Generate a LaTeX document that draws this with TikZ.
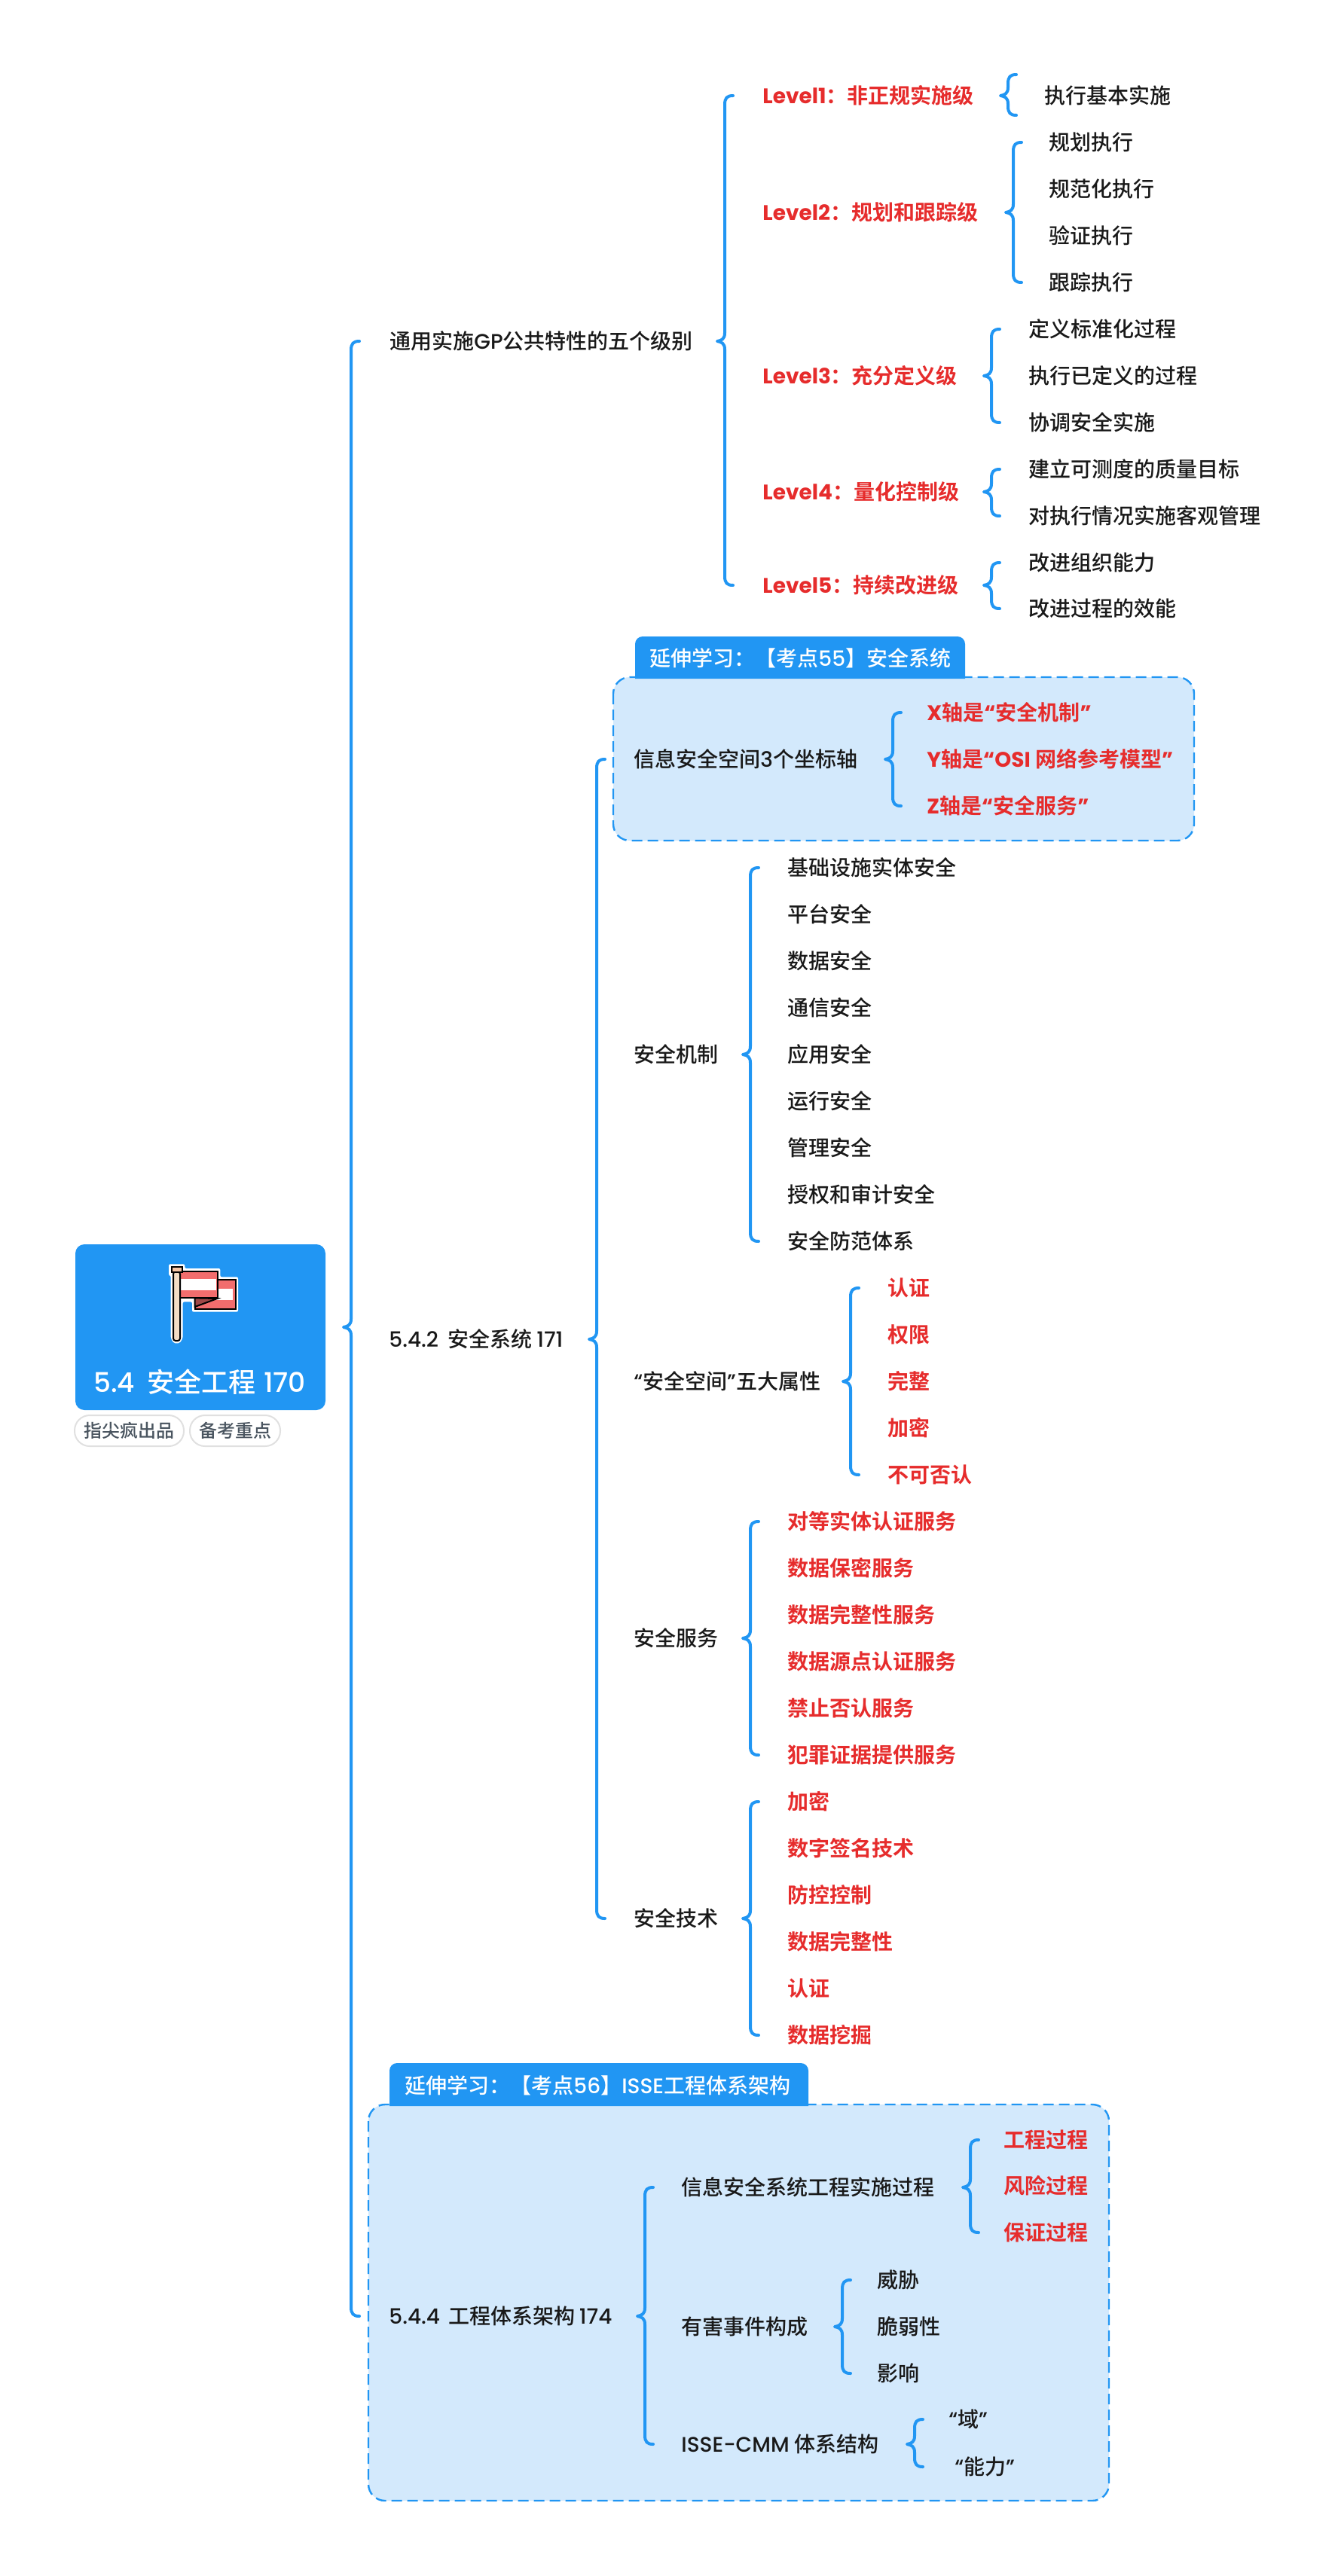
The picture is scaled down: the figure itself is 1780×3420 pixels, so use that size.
\documentclass[tikz,border=0pt]{standalone}
\usepackage{fontspec}
\setmainfont{Noto Sans CJK SC}[UprightFont=* Medium,BoldFont=* Bold]
\newfontfamily\la{Poppins}[UprightFont=* Medium,BoldFont=* Bold]
\usetikzlibrary{calc}

\definecolor{mapblue}{HTML}{2196F3}
\definecolor{mapred}{HTML}{E62C2C}
\definecolor{boxblue}{HTML}{D3E9FC}
\definecolor{mapgray}{HTML}{4A5560}
\definecolor{flagred}{HTML}{F26D6D}
\definecolor{flagdark}{HTML}{A04848}
\definecolor{poletan}{HTML}{F3DCC4}
\definecolor{captan}{HTML}{F6C5A5}

\tikzset{
  txt/.style={anchor=west,inner sep=0pt,yshift=-0.5pt,text=black!90,font=\fontsize{14}{16}\selectfont},
  redtxt/.style={txt,text=mapred,font=\fontsize{14}{16}\selectfont\bfseries},
  tabtxt/.style={txt,text=white},
  tagbox/.style={draw=black!12,line width=1pt,fill=white,rounded corners=10pt,inner sep=0pt,minimum height=20.5pt,text=mapgray,font=\fontsize{12}{14}\selectfont},
  linkline/.style={draw=mapblue,line width=2pt,line cap=round,line join=round},
  zonebox/.style={draw=mapblue,fill=boxblue,line width=1.2pt,dash pattern=on 7pt off 3.5pt,rounded corners=11pt},
}

% parent, first child, last child, x of the tip
\newcommand{\bracelink}[4]{
  \pgfmathsetmacro{\vx}{#4+10}
  \coordinate (tt) at (\vx,0 |- #2);
  \coordinate (mm) at (\vx,0 |- #1);
  \coordinate (bb) at (\vx,0 |- #3);
  \draw[linkline] ($(tt)+(11,0)$) .. controls ($(tt)+(3,0)$) and ($(tt)+(0,3)$) .. ($(tt)+(0,12)$)
    -- ($(mm)+(0,-11)$) .. controls ($(mm)+(0,-3)$) and ($(mm)+(-4,-1)$) .. ($(mm)+(-10,0)$)
    .. controls ($(mm)+(-4,1)$) and ($(mm)+(0,3)$) .. ($(mm)+(0,11)$)
    -- ($(bb)+(0,-12)$) .. controls ($(bb)+(0,-3)$) and ($(bb)+(3,0)$) .. ($(bb)+(11,0)$);
}

\begin{document}
\begin{tikzpicture}[x=0.5pt,y=-0.5pt]
  \useasboundingbox (0,0) rectangle (1780,3420);

  % shaded zones and their tabs
  \path[zonebox] (814,899) rectangle (1585,1116);
  \path[zonebox] (489,2794) rectangle (1472,3320);
  \fill[mapblue] (843,901) [rounded corners=5pt] -- (843,845) -- (1281,845) [sharp corners] -- (1281,901) -- cycle;
  \fill[mapblue] (517,2796) [rounded corners=5pt] -- (517,2739) -- (1073,2739) [sharp corners] -- (1073,2796) -- cycle;
  \node[tabtxt] (tabA) at (862,873) {延伸学习：【考点{\la 55}】安全系统};
  \node[tabtxt] (tabB) at (537,2768) {延伸学习：【考点{\la 56}】{\la ISSE}工程体系架构};

  % root
  \node[fill=mapblue,rounded corners=6pt,minimum width=166pt,minimum height=110pt,inner sep=0pt] (root) at (266,1762) {};
  \node[text=white,inner sep=0pt,font=\fontsize{18}{20}\selectfont] (rootTitle) at (265,1835) {{\la 5.4}\hspace{0.45em}安全工程\hspace{0.3em}{\la 170}};
  \node[tagbox,minimum width=72.5pt] (tagA) at (171.5,1899.5) {指尖疯出品};
  \node[tagbox,minimum width=60pt] (tagB) at (312,1899.5) {备考重点};

  % flag
  \begin{scope}[shift={(60,1620)},x=0.16667pt,y=-0.16667pt]
    \fill[white,rounded corners=1pt] (492,175) -- (556,175) -- (556,192) -- (697,192) -- (697,226) -- (768,226) -- (768,365) -- (585,365) -- (585,325) -- (548,325) -- (548,470) -- (535,490) -- (512,490) -- (500,470) -- (500,220) -- (492,220) -- cycle;
    \filldraw[flagred,draw=black,line width=1pt] (596,236) rectangle (759,355);
    \fill[white] (680,274) rectangle (746,319);
    \filldraw[flagdark,draw=black,line width=1pt] (596,345) -- (596,310) -- (685,312) -- cycle;
    \filldraw[flagred,draw=black,line width=1pt] (530,204) rectangle (687,310);
    \fill[white] (537,234) rectangle (680,280);
    \filldraw[poletan,draw=black,line width=1pt,rounded corners=1.5pt] (510,205) -- (510,480) -- (537,480) -- (537,205) -- cycle;
    \filldraw[captan,draw=black,line width=1pt] (503,187) rectangle (545,207);
  \end{scope}

  % first level
  \node[txt] (gpLevels) at (517,452) {通用实施{\la GP}公共特性的五个级别};
  \node[txt] (sys) at (516,1777) {{\la 5.4.2}\hspace{0.45em}安全系统\hspace{0.2em}{\la 171}};
  \node[txt] (arch) at (516,3074) {{\la 5.4.4}\hspace{0.4em}工程体系架构\hspace{0.2em}{\la 174}};
  \bracelink{root}{gpLevels}{arch}{456}

  % the five levels
  \node[redtxt] (lvA) at (1012,126) {{\la Level1}：非正规实施级};
  \node[redtxt] (lvB) at (1012,281) {{\la Level2}：规划和跟踪级};
  \node[redtxt] (lvC) at (1012,498) {{\la Level3}：充分定义级};
  \node[redtxt] (lvD) at (1012,652) {{\la Level4}：量化控制级};
  \node[redtxt] (lvE) at (1012,776) {{\la Level5}：持续改进级};
  \bracelink{gpLevels}{lvA}{lvE}{952}

  \node[txt] (lvAa) at (1386,126) {执行基本实施};
  \coordinate (lvAtop) at (1350,99);
  \coordinate (lvAbot) at (1350,153);
  \bracelink{lvA}{lvAtop}{lvAbot}{1328}

  \node[txt] (lvBa) at (1392,188) {规划执行};
  \node[txt] (lvBb) at (1392,250) {规范化执行};
  \node[txt] (lvBc) at (1392,312) {验证执行};
  \node[txt] (lvBd) at (1392,374) {跟踪执行};
  \bracelink{lvB}{lvBa}{lvBd}{1335}

  \node[txt] (lvCa) at (1365,436) {定义标准化过程};
  \node[txt] (lvCb) at (1365,498) {执行已定义的过程};
  \node[txt] (lvCc) at (1365,560) {协调安全实施};
  \bracelink{lvC}{lvCa}{lvCc}{1306}

  \node[txt] (lvDa) at (1365,622) {建立可测度的质量目标};
  \node[txt] (lvDb) at (1365,684) {对执行情况实施客观管理};
  \bracelink{lvD}{lvDa}{lvDb}{1306}

  \node[txt] (lvEa) at (1365,746) {改进组织能力};
  \node[txt] (lvEb) at (1365,807) {改进过程的效能};
  \bracelink{lvE}{lvEa}{lvEb}{1306}

  % security system
  \node[txt] (axes) at (841,1007) {信息安全空间{\la 3}个坐标轴};
  \node[txt] (mech) at (841,1399) {安全机制};
  \node[txt] (attr) at (841,1833) {{\la “}安全空间{\la ”}五大属性};
  \node[txt] (serv) at (841,2174) {安全服务};
  \node[txt] (tech) at (841,2546) {安全技术};
  \bracelink{sys}{axes}{tech}{782}

  \node[redtxt] (axesX) at (1230,945) {{\la X}轴是{\la “}安全机制{\la ”}};
  \node[redtxt] (axesY) at (1230,1007) {{\la Y}轴是{\la “OSI} 网络参考模型{\la ”}};
  \node[redtxt] (axesZ) at (1230,1069) {{\la Z}轴是{\la “}安全服务{\la ”}};
  \bracelink{axes}{axesX}{axesZ}{1175}

  \node[txt] (mechA) at (1045,1151) {基础设施实体安全};
  \node[txt] (mechB) at (1045,1213) {平台安全};
  \node[txt] (mechC) at (1045,1275) {数据安全};
  \node[txt] (mechD) at (1045,1337) {通信安全};
  \node[txt] (mechE) at (1045,1399) {应用安全};
  \node[txt] (mechF) at (1045,1461) {运行安全};
  \node[txt] (mechG) at (1045,1523) {管理安全};
  \node[txt] (mechH) at (1045,1585) {授权和审计安全};
  \node[txt] (mechI) at (1045,1647) {安全防范体系};
  \bracelink{mech}{mechA}{mechI}{986}

  \node[redtxt] (attrA) at (1178,1709) {认证};
  \node[redtxt] (attrB) at (1178,1771) {权限};
  \node[redtxt] (attrC) at (1178,1833) {完整};
  \node[redtxt] (attrD) at (1178,1895) {加密};
  \node[redtxt] (attrE) at (1178,1957) {不可否认};
  \bracelink{attr}{attrA}{attrE}{1119}

  \node[redtxt] (servA) at (1045,2019) {对等实体认证服务};
  \node[redtxt] (servB) at (1045,2081) {数据保密服务};
  \node[redtxt] (servC) at (1045,2143) {数据完整性服务};
  \node[redtxt] (servD) at (1045,2205) {数据源点认证服务};
  \node[redtxt] (servE) at (1045,2267) {禁止否认服务};
  \node[redtxt] (servF) at (1045,2329) {犯罪证据提供服务};
  \bracelink{serv}{servA}{servF}{986}

  \node[redtxt] (techA) at (1045,2391) {加密};
  \node[redtxt] (techB) at (1045,2453) {数字签名技术};
  \node[redtxt] (techC) at (1045,2515) {防控控制};
  \node[redtxt] (techD) at (1045,2577) {数据完整性};
  \node[redtxt] (techE) at (1045,2639) {认证};
  \node[redtxt] (techF) at (1045,2701) {数据挖掘};
  \bracelink{tech}{techA}{techF}{986}

  % engineering architecture
  \node[txt] (proc) at (904,2903) {信息安全系统工程实施过程};
  \node[txt] (harm) at (904,3088) {有害事件构成};
  \node[txt] (cmm) at (904,3244) {{\la ISSE-CMM} 体系结构};
  \bracelink{arch}{proc}{cmm}{846}

  \node[redtxt] (procA) at (1332,2840) {工程过程};
  \node[redtxt] (procB) at (1332,2901) {风险过程};
  \node[redtxt] (procC) at (1332,2963) {保证过程};
  \bracelink{proc}{procA}{procC}{1278}

  \node[txt] (harmA) at (1164,3026) {威胁};
  \node[txt] (harmB) at (1164,3088) {脆弱性};
  \node[txt] (harmC) at (1164,3150) {影响};
  \bracelink{harm}{harmA}{harmC}{1108}

  \node[txt] (cmmA) at (1259,3211) {{\la “}域{\la ”}};
  \node[txt] (cmmB) at (1267,3274) {{\la “}能力{\la ”}};
  \bracelink{cmm}{cmmA}{cmmB}{1204}
\end{tikzpicture}
\end{document}
